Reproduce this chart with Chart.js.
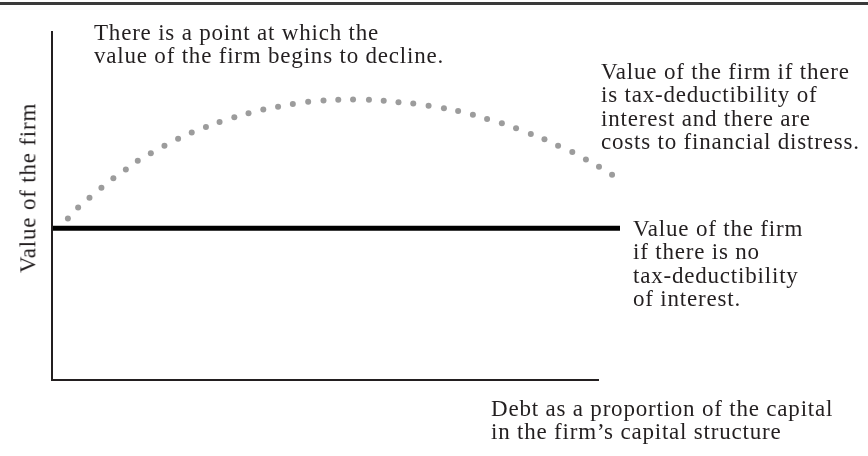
<!DOCTYPE html>
<html>
<head>
<meta charset="utf-8">
<title>Value of the firm and debt</title>
<script src="https://cdn.jsdelivr.net/npm/chart.js@4.4.1/dist/chart.umd.min.js"></script>
<style>
    html, body { margin: 0; padding: 0; background: #fff; }
    #wrap { position: relative; width: 868px; height: 456px; overflow: hidden; }
    #topRule { position: absolute; left: 0; top: 2px; width: 868px; height: 3px; background: #3a3a3a; }
    canvas { position: absolute; left: 0; top: 0; }
    .note {
        position: absolute;
        font-family: "Liberation Serif", "DejaVu Serif", serif;
        font-size: 23px;
        line-height: 23.3px;
        letter-spacing: 0.8px;
        color: #231f20;
        white-space: nowrap;
    }
    #yTitle {
        position: absolute;
        left: 28px;
        top: 188px;
        transform: translate(-50%, -50%) rotate(-90deg);
    }
</style>
</head>
<body>
<div id="wrap">
    <div id="topRule"></div>
    <canvas id="firmChart" width="868" height="456"></canvas>
    <div class="note" style="left:94px; top:21px;">There is a point at which the<br>value of the firm begins to decline.</div>
    <div class="note" style="left:601px; top:60px;">Value of the firm if there<br>is tax-deductibility of<br>interest and there are<br>costs to financial distress.</div>
    <div class="note" style="left:633px; top:217px;">Value of the firm<br>if there is no<br>tax-deductibility<br>of interest.</div>
    <div class="note" style="left:491px; top:397px;">Debt as a proportion of the capital<br>in the firm’s capital structure</div>
    <div class="note" id="yTitle">Value of the firm</div>
</div>
<script>
// 负债比例 (0-100) 与企业价值 (0-100)
const debtShare = [2.8, 4.6, 6.6, 8.7, 10.8, 13.0, 15.1, 17.4, 19.8, 22.2,
                   24.6, 27.1, 29.5, 32.1, 34.6, 37.2, 39.8, 42.4, 45.1, 47.8,
                   50.4, 53.0, 55.8, 58.4, 61.0, 63.6, 66.3, 69.0, 71.5, 74.1,
                   76.6, 79.2, 81.7, 84.3, 86.7, 89.1, 91.6, 94.0, 96.3, 98.6];
const valueWithTax = [46.3, 49.4, 52.2, 55.1, 57.8, 60.3, 62.8, 65.0, 67.1, 69.1,
                      70.9, 72.5, 73.9, 75.3, 76.4, 77.5, 78.3, 79.1, 79.7, 80.1,
                      80.3, 80.4, 80.3, 80.0, 79.6, 79.2, 78.6, 77.9, 77.1, 76.0,
                      74.8, 73.6, 72.1, 70.5, 69.0, 67.1, 65.3, 63.2, 61.1, 58.8];

// 无税盾时的企业价值（水平线）
const noTaxDebt = [0, 100];
const noTaxValue = [43.5, 43.5];

// 坐标轴折线：纵轴顶端 -> 原点 -> 横轴末端
const axisX = [0, 0, 96.3];
const axisY = [100, 0, 0];

function toPoints(xs, ys) {
    return xs.map((x, i) => ({ x: x, y: ys[i] }));
}

document.addEventListener('DOMContentLoaded', function() {
    const ctx = document.getElementById('firmChart').getContext('2d');
    new Chart(ctx, {
        type: 'scatter',
        data: {
            datasets: [
                {
                    label: 'Value with tax-deductibility and distress costs',
                    data: toPoints(debtShare, valueWithTax),
                    showLine: false,
                    pointRadius: 3,
                    pointBorderWidth: 0,
                    pointBackgroundColor: '#9c9c9c',
                    order: 2
                },
                {
                    label: 'Value with no tax-deductibility',
                    data: toPoints(noTaxDebt, noTaxValue),
                    showLine: true,
                    borderColor: '#000',
                    borderWidth: 5,
                    pointRadius: 0,
                    order: 1
                },
                {
                    label: 'axes',
                    data: toPoints(axisX, axisY),
                    showLine: true,
                    borderColor: '#231f20',
                    borderWidth: 2,
                    borderJoinStyle: 'miter',
                    pointRadius: 0,
                    clip: false,
                    order: 0
                }
            ]
        },
        options: {
            responsive: false,
            animation: false,
            devicePixelRatio: 1,
            layout: {
                padding: { left: 52, right: 248, top: 31, bottom: 76 }
            },
            plugins: {
                legend: { display: false },
                tooltip: { enabled: false }
            },
            scales: {
                x: { type: 'linear', min: 0, max: 100, display: false },
                y: { type: 'linear', min: 0, max: 100, display: false }
            }
        }
    });
});
</script>
</body>
</html>
